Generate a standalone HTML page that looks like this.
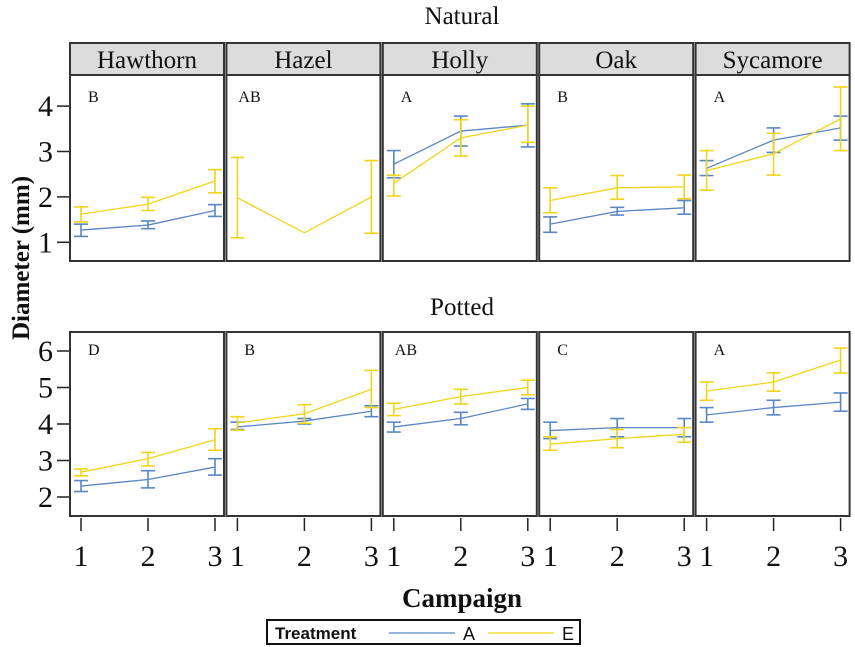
<!DOCTYPE html>
<html><head><meta charset="utf-8"><style>
html,body{margin:0;padding:0;background:#fff}
svg{display:block}
text{font-family:"Liberation Serif",serif;fill:#111}
</style></head><body>
<svg id="c" width="855" height="647" xmlns="http://www.w3.org/2000/svg"></svg>
<script>
const species = ["Hawthorn","Hazel","Holly","Oak","Sycamore"];
const campaigns = [1,2,3];
const natLetters = ["B","AB","A","B","A"];
const potLetters = ["D","B","AB","C","A"];
const natTicks = [1,2,3,4];
const potTicks = [2,3,4,5,6];
// [mean, lo, hi] per campaign; null = absent; lo null = no bar
const natA = [
 [[1.27,1.13,1.40],[1.38,1.30,1.47],[1.70,1.57,1.83]],
 null,
 [[2.72,2.42,3.02],[3.45,3.12,3.78],[3.58,3.10,4.05]],
 [[1.40,1.22,1.56],[1.68,1.60,1.77],[1.76,1.62,1.92]],
 [[2.63,2.47,2.80],[3.25,2.98,3.52],[3.52,3.25,3.78]]
];
const natE = [
 [[1.62,1.45,1.78],[1.84,1.70,1.99],[2.35,2.09,2.60]],
 [[1.98,1.10,2.87],[1.21,null,null],[2.00,1.20,2.80]],
 [[2.30,2.02,2.48],[3.30,2.90,3.70],[3.58,3.20,4.00]],
 [[1.92,1.65,2.20],[2.20,1.95,2.47],[2.22,1.96,2.48]],
 [[2.58,2.15,3.02],[2.95,2.48,3.40],[3.72,3.02,4.42]]
];
const potA = [
 [[2.30,2.15,2.45],[2.48,2.25,2.72],[2.82,2.60,3.05]],
 [[3.92,3.85,4.05],[4.08,4.00,4.15],[4.35,4.20,4.50]],
 [[3.92,3.78,4.05],[4.15,3.98,4.32],[4.55,4.40,4.70]],
 [[3.82,3.60,4.05],[3.90,3.65,4.15],[3.90,3.65,4.15]],
 [[4.25,4.05,4.45],[4.45,4.25,4.65],[4.60,4.35,4.85]]
];
const potE = [
 [[2.68,2.58,2.77],[3.05,2.85,3.22],[3.57,3.28,3.87]],
 [[4.03,3.83,4.20],[4.28,4.02,4.53],[4.95,4.45,5.47]],
 [[4.40,4.23,4.57],[4.75,4.55,4.95],[5.00,4.80,5.20]],
 [[3.45,3.28,3.65],[3.60,3.35,3.85],[3.72,3.50,3.90]],
 [[4.90,4.65,5.15],[5.15,4.90,5.40],[5.75,5.40,6.08]]
];
const svg=document.getElementById('c');
const NS="http://www.w3.org/2000/svg";
function mk(tag,attrs,parent){const e=document.createElementNS(NS,tag);for(const k in attrs)e.setAttribute(k,attrs[k]);(parent||svg).appendChild(e);return e;}
const BLUE="#5a86c4",YEL="#f0d418";
const pL=i=>70+i*156.4, pW=154;
const xS=(i,c)=>pL(i)+11+(c-1)*67;
const yNat=v=>242.3-(v-1)*45.4;
const yPot=v=>497-(v-2)*36.5;
const top1=75,bot1=261,top2=332,bot2=516;

function series(data,i,ys,col,name){
  if(!data) return;
  const pts=data.map((d,k)=>xS(i,campaigns[k])+","+ys(d[0])).join(" ");
  const pl=mk('polyline',{points:pts,fill:'none',stroke:col,'stroke-width':1.3});
  
  
  data.forEach((d,k)=>{
    if(d[1]==null) return;
    const x=xS(i,campaigns[k]);
    const g=mk('g',{stroke:col,'stroke-width':1.6});
    
    
    mk('line',{x1:x,x2:x,y1:ys(d[1]),y2:ys(d[2])},g);
    mk('line',{x1:x-7,x2:x+7,y1:ys(d[1]),y2:ys(d[1])},g);
    mk('line',{x1:x-7,x2:x+7,y1:ys(d[2]),y2:ys(d[2])},g);
  });
}
// titles
let t=mk('text',{x:462,y:24,'text-anchor':'middle','font-size':25});t.textContent="Natural";

t=mk('text',{x:462,y:315,'text-anchor':'middle','font-size':25});t.textContent="Potted";

t=mk('text',{x:29,y:258,'text-anchor':'middle','font-size':25,'font-weight':'bold',transform:'rotate(-90 29 258)'});t.textContent="Diameter (mm)";

t=mk('text',{x:462,y:607,'text-anchor':'middle','font-size':27,'font-weight':'bold'});t.textContent="Campaign";


species.forEach((s,i)=>{
  const x=pL(i);
  const strip=mk('rect',{x:x,y:43,width:pW,height:32,fill:'#dcdcdc',stroke:'#333','stroke-width':2});
  
  t=mk('text',{x:x+pW/2,y:68,'text-anchor':'middle','font-size':25});t.textContent=s;
  
  const r1=mk('rect',{x:x,y:top1,width:pW,height:bot1-top1,fill:'#fff',stroke:'#333','stroke-width':2});
  
  const r2=mk('rect',{x:x,y:top2,width:pW,height:bot2-top2,fill:'#fff',stroke:'#333','stroke-width':2});
  
  t=mk('text',{x:x+(natLetters[i].length>1?12:18),y:top1+27,'font-size':16});t.textContent=natLetters[i];
  
  t=mk('text',{x:x+(potLetters[i].length>1?12:18),y:top2+23,'font-size':16});t.textContent=potLetters[i];
  
  series(natA[i],i,yNat,BLUE,'natural-a');
  series(natE[i],i,yNat,YEL,'natural-e');
  series(potA[i],i,yPot,BLUE,'potted-a');
  series(potE[i],i,yPot,YEL,'potted-e');
  campaigns.forEach(c=>{
    const xx=xS(i,c);
    const tk=mk('line',{x1:xx,x2:xx,y1:518,y2:531,stroke:'#222','stroke-width':1.5});
    
    t=mk('text',{x:xx,y:566,'text-anchor':'middle','font-size':30});t.textContent=c;
    
  });
});
natTicks.forEach(v=>{
  const y=yNat(v);
  const tk=mk('line',{x1:57,x2:69,y1:y,y2:y,stroke:'#222','stroke-width':1.5});
  
  t=mk('text',{x:53,y:y+10,'text-anchor':'end','font-size':30});t.textContent=v;
  
});
potTicks.forEach(v=>{
  const y=yPot(v);
  const tk=mk('line',{x1:57,x2:69,y1:y,y2:y,stroke:'#222','stroke-width':1.5});
  
  t=mk('text',{x:53,y:y+10,'text-anchor':'end','font-size':30});t.textContent=v;
  
});
// legend
const lg=mk('g',{});

mk('rect',{x:267,y:620,width:313,height:24,fill:'#fff',stroke:'#111','stroke-width':2},lg);
t=mk('text',{x:275,y:639,'font-size':17,'font-weight':'bold',style:'font-family:"Liberation Sans",sans-serif'},lg);t.textContent="Treatment";
mk('line',{x1:389,x2:455,y1:633,y2:633,stroke:BLUE,'stroke-width':1.3},lg);
t=mk('text',{x:463,y:640,'font-size':18,style:'font-family:"Liberation Sans",sans-serif'},lg);t.textContent="A";
mk('line',{x1:488,x2:554,y1:633,y2:633,stroke:YEL,'stroke-width':1.3},lg);
t=mk('text',{x:562,y:640,'font-size':18,style:'font-family:"Liberation Sans",sans-serif'},lg);t.textContent="E";
</script>
</body></html>
